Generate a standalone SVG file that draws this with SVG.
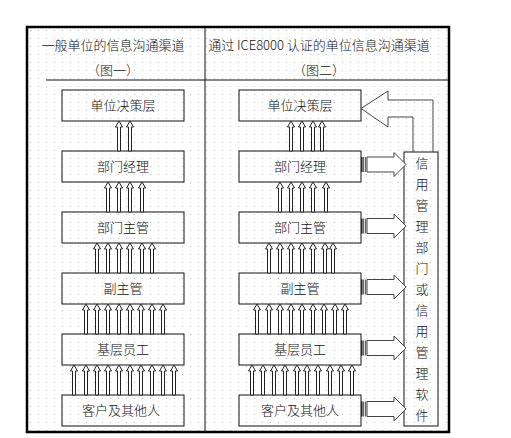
<svg xmlns="http://www.w3.org/2000/svg" xmlns:xlink="http://www.w3.org/1999/xlink" width="511" height="438" viewBox="0 0 511 438">
<style>
text{font-family:"Noto Sans CJK SC","Noto Sans CJK JP",sans-serif;font-size:13px;font-weight:300;fill:#111;text-anchor:middle}
.box{fill:none;stroke:#111;stroke-width:1}
.va{fill:#fff;stroke:#222;stroke-width:1}
.ha{fill:#fff;stroke:#444;stroke-width:1}
.ln{stroke:#111;stroke-width:1;fill:none}
</style>
<defs>
<pattern id="dots" x="0" y="0" width="8" height="8" patternUnits="userSpaceOnUse"><rect x="6" y="6" width="1" height="1" fill="#bdbdbd"/></pattern>
<pattern id="stripe" x="0" y="0" width="2" height="4" patternUnits="userSpaceOnUse"><rect x="0" y="0" width="1" height="4" fill="#666"/><rect x="1" y="0" width="1" height="4" fill="#ddd"/></pattern>
<path id="va" class="va" d="M0,0 L3.5,6 L1.5,6 L1.5,30 L-1.5,30 L-1.5,6 L-3.5,6 Z"/>
<g id="ha">
<rect x="0" y="-7.5" width="6" height="15" fill="url(#stripe)"/>
<rect x="0" y="-7.5" width="1.5" height="15" fill="#222"/>
<path class="ha" d="M6,-7.5 L33,-7.5 L33,-12 L45,0 L33,12 L33,7.5 L6,7.5 Z"/>
</g>
</defs>
<rect x="27" y="27" width="422" height="405" fill="url(#dots)" stroke="#000" stroke-width="2.5"/>
<g id="frame">
<line class="ln" x1="205" y1="28" x2="205" y2="432"/>
<line class="ln" x1="46" y1="80" x2="448" y2="80"/>
<text x="113" y="50">一般单位的信息沟通渠道</text>
<text x="113" y="75">（图一）</text>
<text x="319" y="50">通过 ICE8000 认证的单位信息沟通渠道</text>
<text x="319" y="75">（图二）</text>
</g>
<g id="left-1"><rect class="box" x="62" y="90" width="122" height="31"/><text x="123" y="110">单位决策层</text></g>
<g id="left-2"><rect class="box" x="62" y="151" width="122" height="31"/><text x="123" y="171">部门经理</text></g>
<g id="left-3"><rect class="box" x="62" y="212" width="122" height="31"/><text x="123" y="232">部门主管</text></g>
<g id="left-4"><rect class="box" x="62" y="273" width="122" height="31"/><text x="123" y="293">副主管</text></g>
<g id="left-5"><rect class="box" x="62" y="334" width="122" height="31"/><text x="123" y="354">基层员工</text></g>
<g id="left-6"><rect class="box" x="62" y="395" width="122" height="31"/><text x="121" y="415">客户及其他人</text></g>
<g id="right-1"><rect class="box" x="239" y="90" width="122" height="31"/><text x="300" y="110">单位决策层</text></g>
<g id="right-2"><rect class="box" x="239" y="151" width="122" height="31"/><text x="300" y="171">部门经理</text></g>
<g id="right-3"><rect class="box" x="239" y="212" width="122" height="31"/><text x="300" y="232">部门主管</text></g>
<g id="right-4"><rect class="box" x="239" y="273" width="122" height="31"/><text x="300" y="293">副主管</text></g>
<g id="right-5"><rect class="box" x="239" y="334" width="122" height="31"/><text x="300" y="354">基层员工</text></g>
<g id="right-6"><rect class="box" x="239" y="395" width="122" height="31"/><text x="300" y="415">客户及其他人</text></g>
<g id="credit"><rect class="box" x="404" y="152" width="34" height="274"/>
<text x="422" y="168">信</text><text x="422" y="189">用</text><text x="422" y="210">管</text><text x="422" y="231">理</text><text x="422" y="252">部</text><text x="422" y="273">门</text><text x="422" y="294">或</text><text x="422" y="315">信</text><text x="422" y="336">用</text><text x="422" y="357">管</text><text x="422" y="378">理</text><text x="422" y="399">软</text><text x="422" y="420">件</text>
</g>
<g id="connectors">
<use href="#va" x="119" y="121"/><use href="#va" x="130" y="121"/>
<use href="#va" x="108" y="182"/><use href="#va" x="119" y="182"/><use href="#va" x="130" y="182"/><use href="#va" x="142" y="182"/>
<use href="#va" x="97" y="243"/><use href="#va" x="108" y="243"/><use href="#va" x="119" y="243"/><use href="#va" x="130" y="243"/><use href="#va" x="142" y="243"/><use href="#va" x="152" y="243"/>
<use href="#va" x="86" y="304"/><use href="#va" x="97" y="304"/><use href="#va" x="108" y="304"/><use href="#va" x="119" y="304"/><use href="#va" x="130" y="304"/><use href="#va" x="141" y="304"/><use href="#va" x="152" y="304"/><use href="#va" x="163" y="304"/>
<use href="#va" x="74" y="365"/><use href="#va" x="86" y="365"/><use href="#va" x="97" y="365"/><use href="#va" x="108" y="365"/><use href="#va" x="119" y="365"/><use href="#va" x="130" y="365"/><use href="#va" x="141" y="365"/><use href="#va" x="152" y="365"/><use href="#va" x="163" y="365"/><use href="#va" x="174" y="365"/>
<use href="#va" x="291" y="121"/><use href="#va" x="302" y="121"/><use href="#va" x="313" y="121"/><use href="#va" x="322" y="121"/>
<use href="#va" x="280" y="182"/><use href="#va" x="291" y="182"/><use href="#va" x="302" y="182"/><use href="#va" x="313" y="182"/><use href="#va" x="326" y="182"/>
<use href="#va" x="269" y="243"/><use href="#va" x="280" y="243"/><use href="#va" x="291" y="243"/><use href="#va" x="302" y="243"/><use href="#va" x="313" y="243"/><use href="#va" x="325" y="243"/><use href="#va" x="333" y="243"/>
<use href="#va" x="257" y="304"/><use href="#va" x="269" y="304"/><use href="#va" x="280" y="304"/><use href="#va" x="291" y="304"/><use href="#va" x="302" y="304"/><use href="#va" x="313" y="304"/><use href="#va" x="324" y="304"/><use href="#va" x="335" y="304"/><use href="#va" x="345" y="304"/>
<use href="#va" x="252" y="365"/><use href="#va" x="263" y="365"/><use href="#va" x="274" y="365"/><use href="#va" x="285" y="365"/><use href="#va" x="297" y="365"/><use href="#va" x="307" y="365"/><use href="#va" x="318" y="365"/><use href="#va" x="330" y="365"/><use href="#va" x="341" y="365"/><use href="#va" x="352" y="365"/>
<use href="#ha" x="361" y="164.5"/>
<use href="#ha" x="361" y="226"/>
<use href="#ha" x="361" y="287"/>
<use href="#ha" x="361" y="348"/>
<use href="#ha" x="361" y="409"/>
<path d="M413,152 L413,117 L388,117 L388,127 L361,108.5 L388,91 L388,100 L433,100 L433,152" fill="none" stroke="#444" stroke-width="1"/>
</g>
</svg>
